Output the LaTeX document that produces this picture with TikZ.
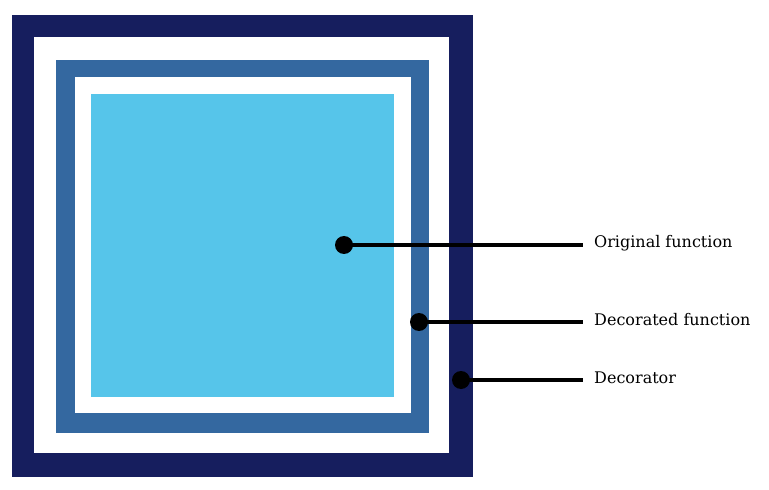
\documentclass[tikz,border=0pt]{standalone}
\usepackage{fontspec}
\setmainfont{DejaVu Serif}
\usetikzlibrary{positioning}
\definecolor{navyframe}{HTML}{161E5E}
\definecolor{midblue}{HTML}{3468A0}
\definecolor{skyblue}{HTML}{56C5EA}

\begin{document}
\begin{tikzpicture}[
    x=1bp, y=-1bp,
    frame/.style={anchor=north west, inner sep=0pt, outer sep=0pt},
    pin/.style={circle, fill=black, inner sep=0pt, minimum size=18bp},
    label/.style={anchor=west, inner sep=0pt, font=\fontsize{16bp}{19bp}\selectfont},
    leader/.style={line width=3.2bp, draw=black}
  ]
    \useasboundingbox (0,0) rectangle (769,490);
    % nested frames
    \node[frame, fill=navyframe, minimum width=461bp, minimum height=462bp] (decorator) at (12,15) {};
    \node[frame, fill=white, minimum width=415bp, minimum height=416bp] (gap1) at (34,37) {};
    \node[frame, fill=midblue, minimum width=373bp, minimum height=373bp] (decorated) at (56,60) {};
    \node[frame, fill=white, minimum width=336bp, minimum height=336bp] (gap2) at (75,77) {};
    \node[frame, fill=skyblue, minimum width=303bp, minimum height=303bp] (original) at (91,94) {};

    % pins and labels
    \node[pin] (pinA) at (344,245) {};
    \node[pin] (pinB) at (419,322) {};
    \node[pin] (pinC) at (461,380) {};
    \coordinate (endA) at (583,245);
    \coordinate (endB) at (583,322);
    \coordinate (endC) at (583,380);
    \node[label] (textA) at (594,243) {Original function};
    \node[label] (textB) at (594,320) {Decorated function};
    \node[label] (textC) at (594,378) {Decorator};

    \draw[leader] (pinA.center) -- (endA);
    \draw[leader] (pinB.center) -- (endB);
    \draw[leader] (pinC.center) -- (endC);
\end{tikzpicture}
\end{document}
